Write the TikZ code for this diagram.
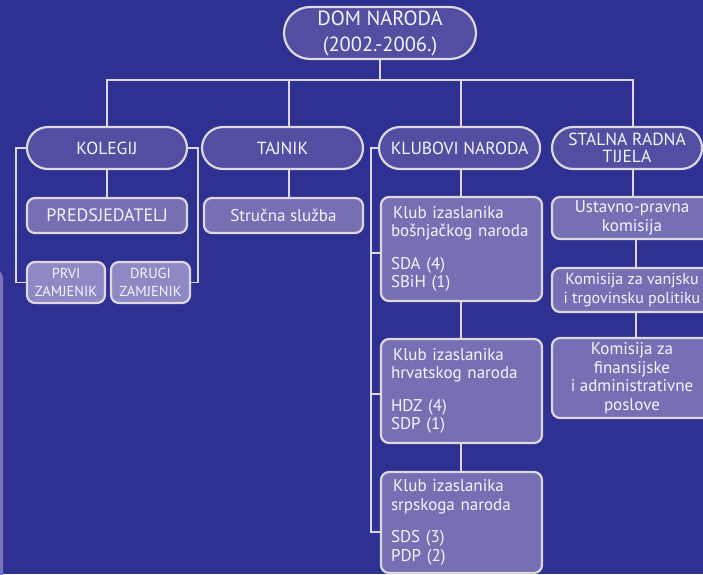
\documentclass[tikz,border=0pt]{standalone}
\usepackage{fontspec}
\setmainfont{PT Sans}
\usetikzlibrary{calc,backgrounds}
\definecolor{bg}{RGB}{46,48,146}
\definecolor{lvlone}{RGB}{82,79,163}
\definecolor{lvltwo}{RGB}{117,112,179}
\definecolor{lvlsmall}{RGB}{142,137,196}
\definecolor{bordc}{RGB}{221,216,222}
\definecolor{linec}{RGB}{220,215,225}
\definecolor{stripc}{RGB}{122,116,186}
\definecolor{txt}{RGB}{245,244,250}
\begin{document}
\begin{tikzpicture}[x=1pt,y=-1pt,
  conn/.style={draw=linec, line width=1.6pt},
  box/.style={draw=bordc, line width=2.2pt, text=txt, inner sep=0pt, align=center},
  rootbox/.style={box, fill=lvlone, rounded corners=26pt, minimum width=192pt, minimum height=52pt, font=\fontsize{20.5}{26}\selectfont},
  topbox/.style={box, fill=lvlone, rounded corners=21pt, minimum height=42pt, font=\fontsize{17.5}{17.5}\selectfont},
  midbox/.style={box, fill=lvltwo, rounded corners=8pt, font=\fontsize{17}{18.5}\selectfont},
  smallbox/.style={box, fill=lvlsmall, rounded corners=8pt, minimum height=41pt, font=\fontsize{14.5}{18}\selectfont},
  klubbox/.style={box, fill=lvltwo, rounded corners=8pt, minimum width=161pt, minimum height=104pt, text width=141pt, align=left, font=\fontsize{17}{18.5}\selectfont}
]
\useasboundingbox (0,0) rectangle (703,574);
\begin{scope}[on background layer]
  \fill[bg] (0,0) rectangle (703,574);
  \fill[stripc, rounded corners=8pt] (-40,270) rectangle (3,620);
\end{scope}

\node[rootbox] (root) at (380,33) {DOM NARODA\\(2002.-2006.)};
\node[topbox, minimum width=160pt] (kol) at (107,148) {KOLEGIJ};
\node[topbox, minimum width=161pt] (taj) at (282.5,148) {TAJNIK};
\node[topbox, minimum width=161pt] (klu) at (459.5,148) {KLUBOVI NARODA};
\node[topbox, minimum width=150pt] (sta) at (627,148) {STALNA RADNA\\TIJELA};

\node[midbox, minimum width=160pt, minimum height=35pt, font=\fontsize{18}{18.5}\selectfont] (pred) at (107,215.5) {PREDSJEDATELJ};
\node[midbox, minimum width=159pt, minimum height=35pt] (str) at (283.5,215.5) {Stručna služba};
\node[smallbox, minimum width=78pt] (prvi) at (66,282.5) {PRVI\\ZAMJENIK};
\node[smallbox, minimum width=79pt] (drugi) at (150.5,282.5) {DRUGI\\ZAMJENIK};

\node[klubbox] (k1) at (461.5,249) {\hspace{2pt}Klub izaslanika\\bošnjačkog naroda\\[14pt]SDA (4)\\SBiH (1)};
\node[klubbox] (k2) at (461.5,391) {\hspace{2pt}Klub izaslanika\\hrvatskog naroda\\[14pt]HDZ (4)\\SDP (1)};
\node[klubbox, minimum height=101pt] (k3) at (461.5,522.5) {\hspace{2pt}Klub izaslanika\\srpskoga naroda\\[14pt]SDS (3)\\PDP (2)};

\node[midbox, minimum width=160pt, minimum height=42pt] (ust) at (632,218) {Ustavno-pravna\\komisija};
\node[midbox, minimum width=160pt, minimum height=44pt, font=\fontsize{16}{18.5}\selectfont] (vanj) at (632,290) {Komisija za vanjsku\\i trgovinsku politiku};
\node[midbox, minimum width=160pt, minimum height=80pt] (fin) at (632,378) {Komisija za\\finansijske\\i administrativne\\poslove};

\coordinate (bus) at (0,80);
\coordinate (tx) at ($(taj.north)+(6.5,0)$);
\coordinate (kx) at ($(klu.north)+(1.5,0)$);
\coordinate (sx) at ($(sta.north)+(6,0)$);
\coordinate (ux) at ($(ust.south)+(4,0)$);

\begin{scope}[on background layer]
  \draw[conn] (root.south) -- (root.south |- bus);
  \draw[conn] (kol.north) -- (kol.north |- bus) -- (sx |- bus) -- (sx);
  \draw[conn] (tx |- bus) -- (tx);
  \draw[conn] (kx |- bus) -- (kx);
  \draw[conn] (kol.south) -- (pred.north);
  \draw[conn] (tx |- taj.south) -- (tx |- str.north);
  \draw[conn] (kx |- klu.south) -- (kx |- k1.north);
  \draw[conn] (kx |- k1.south) -- (kx |- k2.north);
  \draw[conn] (kx |- k2.south) -- (kx |- k3.north);
  \draw[conn] (sx |- sta.south) -- (sx |- ust.north);
  \draw[conn] (ux) -- (ux |- vanj.north);
  \draw[conn] (ux |- vanj.south) -- (ux |- fin.north);
  \draw[conn] (kol.west) -- ++(-10,0) |- (prvi.west);
  \draw[conn] (kol.east) -- ++(10,0) |- (drugi.east);
  \draw[conn] (klu.west) -- ++(-7,0) coordinate (kb) |- ($(k3.west)+(0,9.5)$);
  \draw[conn] ($(kb |- k1.west)+(0,4)$) -- ($(k1.west)+(0,4)$);
  \draw[conn] ($(kb |- k2.west)+(0,3)$) -- ($(k2.west)+(0,3)$);
\end{scope}
\end{tikzpicture}
\end{document}
